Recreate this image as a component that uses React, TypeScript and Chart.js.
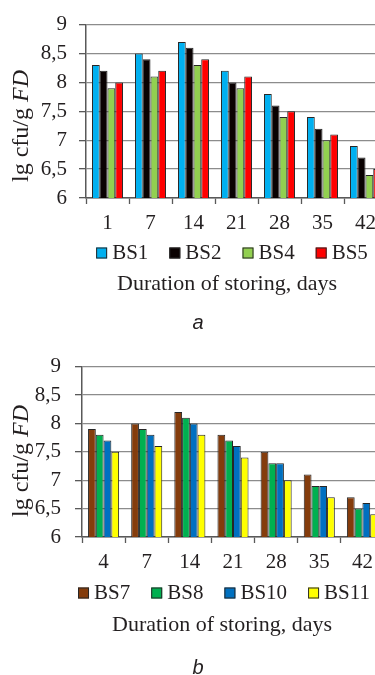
import React, { useEffect, useRef } from "react";
import { Chart, registerables } from "chart.js";

Chart.register(...registerables);

// ---- data ----
const daysA = ["1", "7", "14", "21", "28", "35", "42"];
const bs1 = [8.3, 8.5, 8.7, 8.2, 7.8, 7.4, 6.9];
const bs2 = [8.2, 8.4, 8.6, 8.0, 7.6, 7.2, 6.7];
const bs4 = [7.9, 8.1, 8.3, 7.9, 7.4, 7.0, 6.4];
const bs5 = [8.0, 8.2, 8.4, 8.1, 7.5, 7.1, 6.5];

const daysB = ["4", "7", "14", "21", "28", "35", "42"];
const bs7 = [7.9, 8.0, 8.2, 7.8, 7.5, 7.1, 6.7];
const bs8 = [7.8, 7.9, 8.1, 7.7, 7.3, 6.9, 6.5];
const bs10 = [7.7, 7.8, 8.0, 7.6, 7.3, 6.9, 6.6];
const bs11 = [7.5, 7.6, 7.8, 7.4, 7.0, 6.7, 6.4];

const yTicks = [6, 6.5, 7, 7.5, 8, 8.5, 9];
const yTitleParts = ["lg cfu/g ", "FD"];
const xTitle = "Duration of storing, days";

const SERIF = "'Liberation Serif', 'Times New Roman', serif";
const SANS = "'Liberation Sans', Arial, sans-serif";
const TEXT = "#231f20";
const AXIS = "#595959";
const GRID = "#8c8c8c";
const BAR_BORDER = "#262626";

const annotPlugin = {
  id: "annot",
  afterDraw(chart: any, _args: any, o: any) {
    const ctx = chart.ctx as CanvasRenderingContext2D;
    ctx.save();
    ctx.fillStyle = TEXT;

    // y-axis title (mixed upright / italic)
    ctx.save();
    ctx.translate(o.yTitleX, o.yTitleY);
    ctx.rotate(-Math.PI / 2);
    ctx.textBaseline = "middle";
    ctx.textAlign = "left";
    const fN = `24px ${SERIF}`;
    const fI = `italic 24px ${SERIF}`;
    ctx.font = fN;
    const w1 = ctx.measureText(yTitleParts[0]).width;
    ctx.font = fI;
    const w2 = ctx.measureText(yTitleParts[1]).width;
    const sx = -(w1 + w2) / 2;
    ctx.font = fN;
    ctx.fillText(yTitleParts[0], sx, 0);
    ctx.font = fI;
    ctx.fillText(yTitleParts[1], sx + w1, 0);
    ctx.restore();

    // legend row
    const box = 11;
    const gap = 5;
    const spacing = 21;
    ctx.font = `21px ${SERIF}`;
    ctx.textBaseline = "alphabetic";
    ctx.textAlign = "left";
    const items = chart.data.datasets.map((d: any) => ({
      label: d.label,
      color: d.backgroundColor,
      w: ctx.measureText(d.label).width,
    }));
    const total =
      items.reduce((s: number, it: any) => s + box + gap + it.w, 0) +
      spacing * (items.length - 1);
    let x = o.legendCX - total / 2;
    for (const it of items) {
      const top = o.legendBase - 11.5;
      ctx.fillStyle = it.color;
      ctx.fillRect(x, top, box, box);
      ctx.strokeStyle = BAR_BORDER;
      ctx.lineWidth = 1;
      ctx.strokeRect(x + 0.5, top + 0.5, box - 1, box - 1);
      ctx.fillStyle = TEXT;
      ctx.fillText(it.label, x + box + gap, o.legendBase);
      x += box + gap + it.w + spacing;
    }

    // x-axis title
    ctx.font = `22px ${SERIF}`;
    ctx.textAlign = "center";
    ctx.fillStyle = TEXT;
    ctx.fillText(xTitle, o.xTitleCX, o.xTitleBase);

    // panel letter
    ctx.font = `italic 20px ${SANS}`;
    ctx.fillText(o.panel, o.panelCX, o.panelBase);
    ctx.restore();
  },
};

function makeConfig(
  labels: string[],
  series: { label: string; data: number[]; color: string }[],
  geom: any
): any {
  return {
    type: "bar",
    data: {
      labels,
      datasets: series.map((s) => ({
        label: s.label,
        data: s.data,
        backgroundColor: s.color,
        borderColor: BAR_BORDER,
        borderWidth: 1,
        barPercentage: 1,
        categoryPercentage: 0.72,
      })),
    },
    options: {
      responsive: false,
      animation: false,
      devicePixelRatio: 1,
      layout: { padding: geom.padding },
      plugins: {
        legend: { display: false },
        title: { display: false },
        tooltip: { enabled: false },
        annot: geom.annot,
      },
      scales: {
        x: {
          offset: true,
          grid: {
            offset: true,
            drawOnChartArea: false,
            drawTicks: true,
            tickLength: 6,
            tickColor: AXIS,
            tickWidth: 1.3,
          },
          border: { display: true, color: AXIS, width: 1.5 },
          ticks: {
            color: TEXT,
            font: { family: SERIF, size: 21 },
            padding: geom.xTickPad,
            maxRotation: 0,
            autoSkip: false,
          },
          afterFit: (s: any) => {
            s.height = 40;
          },
        },
        y: {
          min: yTicks[0],
          max: yTicks[yTicks.length - 1],
          afterBuildTicks: (s: any) => {
            s.ticks = yTicks.map((v) => ({ value: v }));
          },
          grid: {
            color: GRID,
            lineWidth: 1.3,
            tickLength: 7,
            tickColor: AXIS,
            tickWidth: 1.3,
          },
          border: { display: true, color: AXIS, width: 1.5 },
          ticks: {
            color: TEXT,
            font: { family: SERIF, size: 21 },
            padding: geom.yTickPad,
            callback: (v: any) => String(v).replace(".", ","),
          },
          afterFit: (s: any) => {
            s.width = geom.yWidth;
          },
        },
      },
    },
    plugins: [annotPlugin],
  };
}

function Panel(props: { config: any; top: number; width: number; height: number }) {
  const ref = useRef<HTMLCanvasElement | null>(null);
  useEffect(() => {
    if (!ref.current) return;
    const chart = new Chart(ref.current, props.config);
    return () => chart.destroy();
  }, []);
  return (
    <canvas
      ref={ref}
      width={props.width}
      height={props.height}
      style={{
        position: "absolute",
        left: 0,
        top: props.top,
        width: props.width,
        height: props.height,
        display: "block",
      }}
    />
  );
}

const configA = makeConfig(
  daysA,
  [
    { label: "BS1", data: bs1, color: "#00b0f0" },
    { label: "BS2", data: bs2, color: "#0a0202" },
    { label: "BS4", data: bs4, color: "#92d050" },
    { label: "BS5", data: bs5, color: "#ff0000" },
  ],
  {
    padding: { left: 0, right: 13, top: 18, bottom: 102 },
    yWidth: 86,
    yTickPad: 12,
    xTickPad: 7,
    annot: {
      yTitleX: 22,
      yTitleY: 126,
      legendCX: 232,
      legendBase: 259,
      xTitleCX: 227,
      xTitleBase: 290,
      panel: "a",
      panelCX: 198,
      panelBase: 329,
    },
  }
);

const configB = makeConfig(
  daysB,
  [
    { label: "BS7", data: bs7, color: "#843c0c" },
    { label: "BS8", data: bs8, color: "#00b050" },
    { label: "BS10", data: bs10, color: "#0070c0" },
    { label: "BS11", data: bs11, color: "#ffff00" },
  ],
  {
    padding: { left: 0, right: 16, top: 17, bottom: 98 },
    yWidth: 82,
    yTickPad: 14,
    xTickPad: 7,
    annot: {
      yTitleX: 22,
      yTitleY: 121,
      legendCX: 224,
      legendBase: 259,
      xTitleCX: 222,
      xTitleBase: 291,
      panel: "b",
      panelCX: 198,
      panelBase: 334,
    },
  }
);

export default function App() {
  return (
    <div
      style={{
        position: "fixed",
        left: 0,
        top: 0,
        width: 375,
        height: 675,
        overflow: "hidden",
        background: "#ffffff",
      }}
    >
      <Panel config={configA} top={0} width={400} height={340} />
      <Panel config={configB} top={340} width={400} height={335} />
    </div>
  );
}
